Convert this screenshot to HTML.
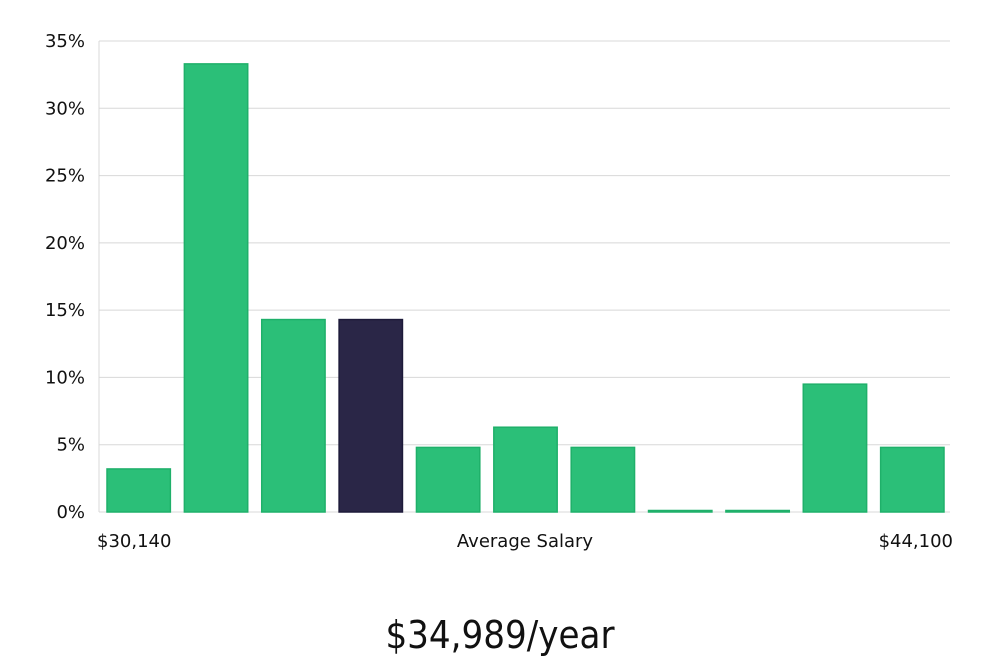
<!DOCTYPE html>
<html><head><meta charset="utf-8"><style>
body{margin:0;background:#fff;width:1000px;height:660px;overflow:hidden;font-family:"DejaVu Sans","Liberation Sans",sans-serif}
</style></head><body>
<svg id="chart" width="1000" height="660" xmlns="http://www.w3.org/2000/svg">
<g id="grid"></g><g id="bars"></g><g id="labels"></g>
<text x="97" y="547" font-size="18" fill="#111">$30,140</text>
<text x="525" y="547" font-size="18" fill="#111" text-anchor="middle">Average Salary</text>
<text x="953" y="547" font-size="18" fill="#111" text-anchor="end">$44,100</text>
<text x="500" y="648" font-size="38" fill="#111" text-anchor="middle" font-family="'DejaVu Sans Condensed','Liberation Sans Narrow',sans-serif" font-weight="300">$34,989/year</text>
</svg>
<script>
const values=[3.2,33.3,14.3,14.3,4.8,6.3,4.8,0,0,9.5,4.8];
const highlight=[false,false,false,true,false,false,false,false,false,false,false];
const ticks=[0,5,10,15,20,25,30,35];
const ns="http://www.w3.org/2000/svg";
const x0=99,x1=950,y0=512,y1=41,ymax=35;
const y=v=>y0-(v/ymax)*(y0-y1);
const step=(x1-x0)/values.length;
const grid=document.getElementById('grid');
ticks.forEach(t=>{
 const l=document.createElementNS(ns,'line');
 
 
 l.setAttribute('x1',x0);l.setAttribute('x2',x1);l.setAttribute('y1',y(t));l.setAttribute('y2',y(t));
 l.setAttribute('stroke','#d8d8d8');l.setAttribute('stroke-width','1');
 grid.appendChild(l);
 const tx=document.createElementNS(ns,'text');
 
 
 tx.setAttribute('x',85);tx.setAttribute('y',y(t)+6);tx.setAttribute('text-anchor','end');
 tx.setAttribute('font-size','18');tx.setAttribute('fill','#111');
 tx.textContent=t+'%';grid.appendChild(tx);
});
const ax=document.createElementNS(ns,'line');


ax.setAttribute('x1',x0);ax.setAttribute('x2',x0);ax.setAttribute('y1',y1);ax.setAttribute('y2',y0);
ax.setAttribute('stroke','#d8d8d8');grid.appendChild(ax);
const bars=document.getElementById('bars');
values.forEach((v,i)=>{
 const r=document.createElementNS(ns,'rect');
 
 
 const h=Math.max(y0-y(v),1.5);
 r.setAttribute('x',x0+i*step+8);r.setAttribute('width',step-14);
 r.setAttribute('y',y0-h);r.setAttribute('height',h);
 r.setAttribute('fill',highlight[i]?'#2a2647':'#2bbf78');
 r.setAttribute('stroke',highlight[i]?'#1d1a3a':'#1fb06a');
 r.setAttribute('stroke-width','1.5');
 bars.appendChild(r);
});
</script>
</body></html>
